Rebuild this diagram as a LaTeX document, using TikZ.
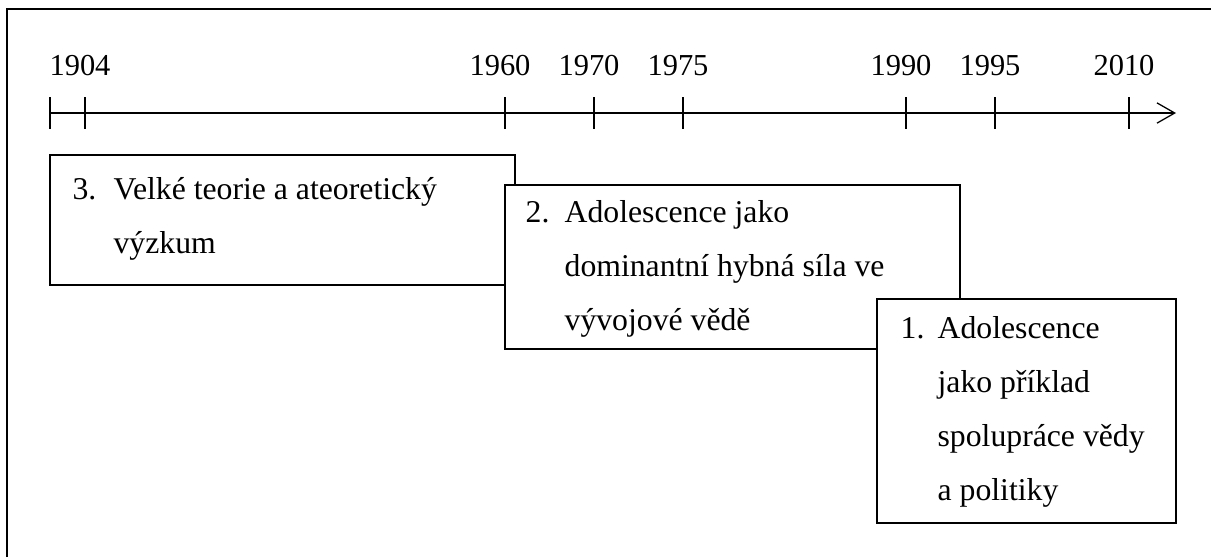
\documentclass[tikz,border=0pt]{standalone}
\usepackage{fontspec}
\setmainfont{Liberation Serif}
\usetikzlibrary{arrows.meta,positioning}

\begin{document}
\begin{tikzpicture}[x=0.394pt,y=-0.394pt,line width=0.5pt,
  txt/.style={anchor=base west,inner sep=0pt,font=\fontsize{12.5}{15}\selectfont},
  yearlabel/.style={anchor=base,inner sep=0pt,font=\fontsize{12}{14}\selectfont},
  period/.style={draw,fill=white}]
\useasboundingbox (0,0) rectangle (1211,557);
% outer frame
\draw (7,557) -- (7,9) -- (1211,9);
% time axis
\coordinate (start) at (50,113);
\coordinate (end) at (1176,113);
\draw [-{Straight Barb[length=7pt,width=8pt]}] (start) -- (end);
\draw (50,97) -- (50,129);
\foreach \yr/\px in {1904/85,1960/505,1970/594,1975/683,1990/906,1995/995,2010/1129}{
    \coordinate (t\yr) at (\px,113);
    \draw ([yshift=6.3pt]t\yr) -- ([yshift=-6.3pt]t\yr);
    \node [yearlabel] (y\yr) at (\px-5,75) {\yr};
}
% period 3
\draw [period] (50,155) rectangle (515,285);
\node [txt] (n3) at (72,199) {3.};
\foreach \ln [count=\i] in {Velké teorie a ateoretický,výzkum}{
    \node [txt] (p3l\i) at (113,{199+54*(\i-1)}) {\ln};
}
% period 2
\draw [period] (505,185) rectangle (960,349);
\node [txt] (n2) at (525,222) {2.};
\foreach \ln [count=\i] in {Adolescence jako,dominantní hybná síla ve,vývojové vědě}{
    \node [txt] (p2l\i) at (564,{222+54*(\i-1)}) {\ln};
}
% period 1
\draw [period] (877,299) rectangle (1176,523);
\node [txt] (n1) at (900,338) {1.};
\foreach \ln [count=\i] in {Adolescence,jako příklad,spolupráce vědy,a politiky}{
    \node [txt] (p1l\i) at (937,{338+54*(\i-1)}) {\ln};
}
\end{tikzpicture}
\end{document}
